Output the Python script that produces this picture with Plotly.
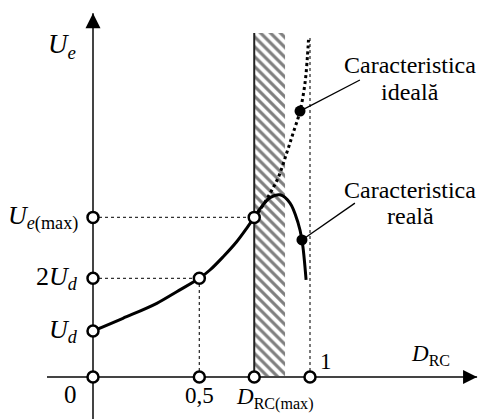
import plotly.graph_objects as go

# ---- data (x in D_RC units, y in U_d units) ----
D_MAX = 0.743
D_HATCH_END = 0.885
UE_MAX = 3.47
TWO_UD = 2.146
UD = 1.0
HALF = 0.490
TOP = 7.48

real_x = [0.0, 0.138, 0.294, 0.386, 0.490, 0.539, 0.600, 0.662, 0.708, 0.743, 0.770, 0.816, 0.862, 0.908, 0.945, 0.963, 0.982]
real_y = [1.0, 1.276, 1.602, 1.854, 2.146, 2.326, 2.615, 2.941, 3.233, 3.47, 3.66, 3.90, 3.96, 3.78, 3.35, 2.98, 2.11]

ideal_x = [0.743, 0.775, 0.806, 0.853, 0.894, 0.922, 0.954, 0.977, 0.988, 0.993]
ideal_y = [3.47, 3.67, 3.91, 4.33, 4.89, 5.30, 5.78, 6.39, 6.96, 7.33]

open_x = [0, 0, 0, 0, HALF, D_MAX, 1.0, HALF, D_MAX]
open_y = [0, UD, TWO_UD, UE_MAX, 0, 0, 0, TWO_UD, UE_MAX]

dot_x = [0.954, 0.963]
dot_y = [5.78, 2.98]

x_axis_ext = [-0.212, 1.770]
y_axis_ext = [-0.95, 7.91]

y_tick_vals = [UD, TWO_UD, UE_MAX]
y_tick_text = ["<i>U<sub>d</sub></i>", "2<i>U<sub>d</sub></i>", "<i>U<sub>e</sub></i><sub>(max)</sub>"]
x_tick_vals = [HALF, D_MAX, 1.0]
x_tick_text = ["0,5", "<i>D</i><sub>RC(max)</sub>", "1"]

AX = "#444444"
FONT = "Liberation Serif, Times New Roman, serif"

fig = go.Figure()

# hatched band
fig.add_trace(go.Scatter(
    x=[D_MAX, D_HATCH_END, D_HATCH_END, D_MAX, D_MAX],
    y=[0, 0, TOP, TOP, 0], mode="none", fill="toself",
    fillcolor="white",
    fillpattern=dict(shape="\\", fgcolor="black", bgcolor="white", size=7, solidity=0.45),
    hoverinfo="skip", showlegend=False))

# dotted guide lines
guides = [
    ([0, D_MAX], [UE_MAX, UE_MAX]),
    ([0, HALF], [TWO_UD, TWO_UD]),
    ([HALF, HALF], [0, TWO_UD]),
    ([1.0, 1.0], [0, TOP - 0.05]),
]
for gx, gy in guides:
    fig.add_trace(go.Scatter(x=gx, y=gy, mode="lines",
                             line=dict(color="#333333", width=1.3, dash="dot"),
                             hoverinfo="skip", showlegend=False))

# left edge of band
fig.add_trace(go.Scatter(x=[D_MAX, D_MAX], y=[0, TOP], mode="lines",
                         line=dict(color="#222222", width=2),
                         hoverinfo="skip", showlegend=False))

# axes
fig.add_trace(go.Scatter(x=x_axis_ext, y=[0, 0], mode="lines",
                         line=dict(color=AX, width=2), hoverinfo="skip", showlegend=False))
fig.add_trace(go.Scatter(x=[0, 0], y=y_axis_ext, mode="lines",
                         line=dict(color=AX, width=2), hoverinfo="skip", showlegend=False))
fig.add_trace(go.Scatter(x=[x_axis_ext[1]], y=[0], mode="markers", cliponaxis=False,
                         marker=dict(symbol="arrow-right", size=14, color="black", line=dict(width=0)),
                         hoverinfo="skip", showlegend=False))
fig.add_trace(go.Scatter(x=[0], y=[y_axis_ext[1]], mode="markers", cliponaxis=False,
                         marker=dict(symbol="arrow-up", size=15, color="black", line=dict(width=0)),
                         hoverinfo="skip", showlegend=False))

# ideal characteristic (dotted)
fig.add_trace(go.Scatter(x=ideal_x, y=ideal_y, mode="lines", line_shape="spline",
                         line=dict(color="black", width=3, dash="dot"),
                         hoverinfo="skip", showlegend=False))
# real characteristic
fig.add_trace(go.Scatter(x=real_x, y=real_y, mode="lines", line_shape="spline",
                         line=dict(color="black", width=3),
                         hoverinfo="skip", showlegend=False))

# leader lines for labels
leaders = [([0.954, 1.230], [5.78, 6.457]), ([0.963, 1.207], [2.98, 3.78])]
for lx, ly in leaders:
    fig.add_trace(go.Scatter(x=lx, y=ly, mode="lines", line=dict(color="black", width=1.3),
                             hoverinfo="skip", showlegend=False))

# markers
fig.add_trace(go.Scatter(x=open_x, y=open_y, mode="markers", cliponaxis=False,
                         marker=dict(symbol="circle", size=11, color="white",
                                     line=dict(color="black", width=2.5)),
                         hoverinfo="skip", showlegend=False))
fig.add_trace(go.Scatter(x=dot_x, y=dot_y, mode="markers",
                         marker=dict(symbol="circle", size=11, color="black"),
                         hoverinfo="skip", showlegend=False))

ann = []
def txt(x, y, t, size, xshift=0, yshift=0, xanchor="center"):
    ann.append(dict(x=x, y=y, text=t, showarrow=False, xanchor=xanchor, yanchor="middle",
                    xshift=xshift, yshift=yshift,
                    font=dict(family=FONT, size=size, color="black")))

for v, t in zip(y_tick_vals, y_tick_text):
    txt(0, v, t, 26, xshift=-13, xanchor="right")
txt(0, 0, "0", 25, xshift=-23, yshift=-17)
txt(x_tick_vals[0], 0, x_tick_text[0], 23, yshift=-18)
txt(x_tick_vals[1], 0, x_tick_text[1], 23, xshift=21, yshift=-21)
txt(x_tick_vals[2], 0, x_tick_text[2], 23, xshift=16, yshift=16)
txt(1.57, 0, "<i>D</i><sub>RC</sub>", 23, xshift=-3, yshift=22)
txt(0, 7.2, "<i>U<sub>e</sub></i>", 27, xshift=-31)
txt(1.461, 6.78, "Caracteristica", 24)
txt(1.461, 6.20, "ideală", 24)
txt(1.461, 4.07, "Caracteristica", 24)
txt(1.461, 3.50, "reală", 24)

fig.update_layout(
    width=478, height=419, margin=dict(l=0, r=0, t=0, b=0),
    paper_bgcolor="white", plot_bgcolor="white",
    xaxis=dict(range=[-93 / 217, (478 - 93) / 217], visible=False, fixedrange=True),
    yaxis=dict(range=[(377 - 419) / 46, 377 / 46], visible=False, fixedrange=True),
    annotations=ann, showlegend=False,
)

fig.write_html("out.html", config={"displayModeBar": False},
               post_script="document.body.style.margin='0';document.body.style.overflow='hidden';")
